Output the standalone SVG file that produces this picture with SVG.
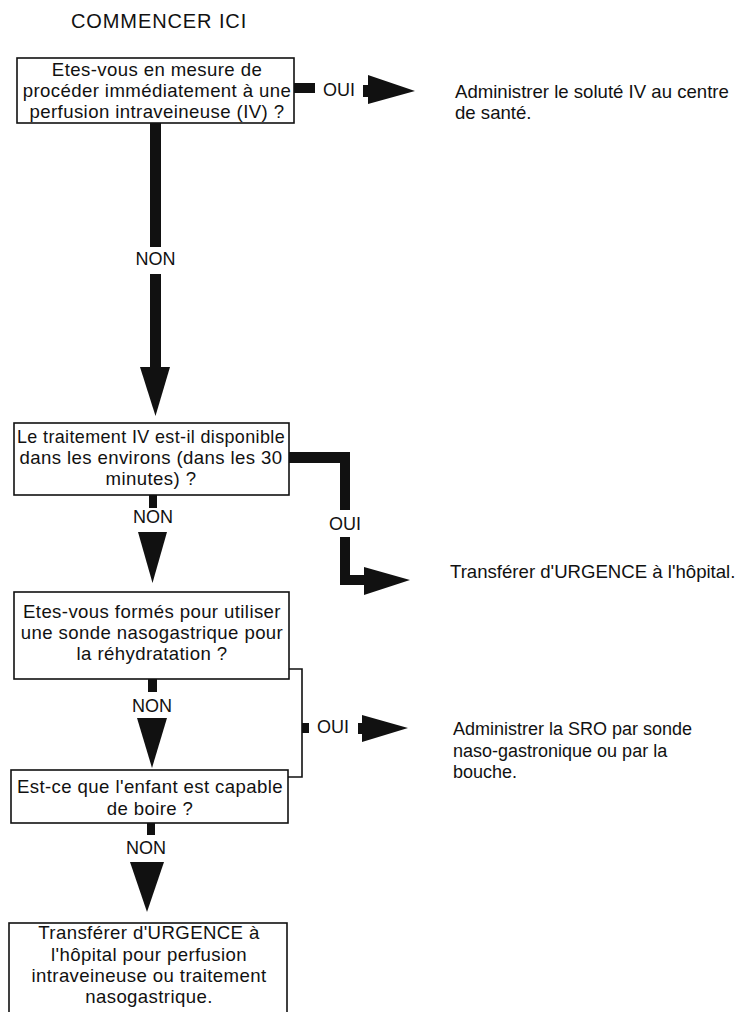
<svg xmlns="http://www.w3.org/2000/svg" width="735" height="1012" viewBox="0 0 735 1012">
<defs>
<style>
text{font-family:"Liberation Sans",Arial,Helvetica,sans-serif;font-size:18.6px;fill:#111}
.bt{text-anchor:middle;letter-spacing:0.4px}
.box{fill:#fff;stroke:#111;stroke-width:1.6}
.bar{fill:#111}
.thin{fill:none;stroke:#111;stroke-width:1.6}
.lbl{text-anchor:middle;font-size:18px}
.sro{font-size:18px}
</style>
</defs>
<rect width="735" height="1012" fill="#fff"/>
<g id="start">
<text x="71" y="28" style="font-size:20px;letter-spacing:0.9px">COMMENCER ICI</text>
</g>
<g id="connectors">
<rect class="bar" x="294" y="83" width="21" height="10"/>
<text class="lbl" x="339" y="96">OUI</text>
<polygon class="bar" points="363,85 368,85 368,75 415,91 368,104 368,97 363,97"/>
<rect class="bar" x="150" y="123" width="11" height="124"/>
<text class="lbl" x="155.5" y="265">NON</text>
<rect class="bar" x="150" y="274" width="11" height="96"/>
<polygon class="bar" points="140,367 170,367 155.5,416"/>
<path class="bar" d="M289,452 H350 V510 H340 V463 H289 Z"/>
<text class="lbl" x="345" y="530">OUI</text>
<path class="bar" d="M340,537 H350 V575 H364 V585 H340 Z"/>
<polygon class="bar" points="360,575 364,575 364,567 410,580 364,595 364,585 360,585"/>
<rect class="bar" x="149" y="495" width="8" height="13"/>
<text class="lbl" x="153" y="523">NON</text>
<polygon class="bar" points="138,532 167,532 152.5,583"/>
<polyline class="thin" points="289,669 302,669 302,777 288,777"/>
<rect class="bar" x="302" y="723" width="7" height="10"/>
<text class="lbl" x="333" y="733">OUI</text>
<polygon class="bar" points="358,723 362,723 362,715 408,728 362,742 362,734 358,734"/>
<rect class="bar" x="148" y="679" width="9" height="13"/>
<text class="lbl" x="152" y="712">NON</text>
<polygon class="bar" points="137,718 167,718 152,768"/>
<rect class="bar" x="147" y="823" width="8" height="12"/>
<text class="lbl" x="146" y="854">NON</text>
<polygon class="bar" points="130,862 164,862 147,912"/>
</g>
<g id="q1">
<rect class="box" x="17" y="58" width="277" height="65"/>
<text class="bt" x="157" y="76">Etes-vous en mesure de</text>
<text class="bt" x="157" y="97">procéder immédiatement à une</text>
<text class="bt" x="157" y="118">perfusion intraveineuse (IV) ?</text>
</g>
<g id="out-iv">
<text x="455" y="98">Administrer le soluté IV au centre</text>
<text x="455" y="119">de santé.</text>
</g>
<g id="q2">
<rect class="box" x="14" y="423" width="275" height="72"/>
<text class="bt" x="151" y="443" textLength="268" lengthAdjust="spacingAndGlyphs">Le traitement IV est-il disponible</text>
<text class="bt" x="151" y="464">dans les environs (dans les 30</text>
<text class="bt" x="151" y="485">minutes) ?</text>
</g>
<g id="out-hospital">
<text x="450" y="578">Transférer d'URGENCE à l'hôpital.</text>
</g>
<g id="q3">
<rect class="box" x="14" y="592" width="275" height="87"/>
<text class="bt" x="152" y="618">Etes-vous formés pour utiliser</text>
<text class="bt" x="152" y="639">une sonde nasogastrique pour</text>
<text class="bt" x="152" y="660">la réhydratation ?</text>
</g>
<g id="out-sro">
<text class="sro" x="453" y="735">Administrer la SRO par sonde</text>
<text class="sro" x="453" y="757">naso-gastronique ou par la</text>
<text class="sro" x="453" y="778">bouche.</text>
</g>
<g id="q4">
<rect class="box" x="11" y="770" width="277" height="53"/>
<text class="bt" x="150" y="793">Est-ce que l'enfant est capable</text>
<text class="bt" x="150" y="815">de boire ?</text>
</g>
<g id="end-transfer">
<rect class="box" x="9" y="923" width="278" height="95"/>
<text class="bt" x="149" y="939">Transférer d'URGENCE à</text>
<text class="bt" x="149" y="961">l'hôpital pour perfusion</text>
<text class="bt" x="149" y="982">intraveineuse ou traitement</text>
<text class="bt" x="149" y="1003">nasogastrique.</text>
</g>
</svg>
